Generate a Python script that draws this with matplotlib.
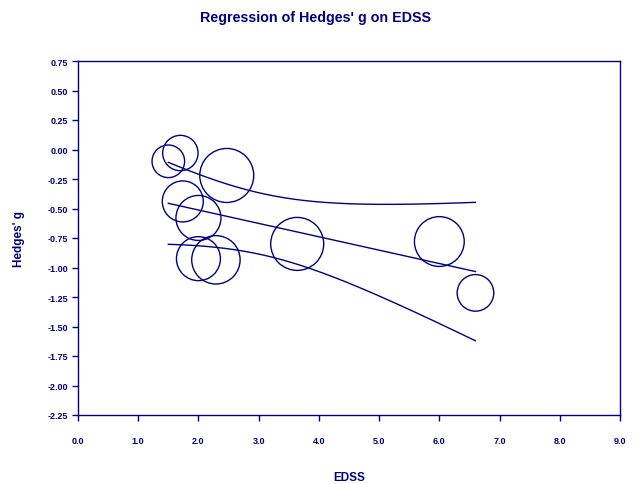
import numpy as np
import matplotlib
matplotlib.use("Agg")
import matplotlib.pyplot as plt

# Study data (EDSS, Hedges' g, relative circle radius ~ weight)
edss = [1.5, 1.7, 2.47, 1.74, 2.0, 2.0, 2.29, 3.64, 6.0, 6.6]
hedges_g = [-0.10, -0.03, -0.22, -0.44, -0.58, -0.925, -0.935, -0.80, -0.78, -1.215]
radius_px = [16.3, 17.7, 27.0, 20.5, 22.5, 22.0, 24.2, 26.5, 24.9, 18.3]

# Meta-regression estimates
intercept = -0.286
slope = -0.1134
var_intercept = 0.0710
cov_is = -0.0175
var_slope = 0.00573
z_crit = 1.96
x_range = (1.5, 6.6)

xticks = [0.0, 1.0, 2.0, 3.0, 4.0, 5.0, 6.0, 7.0, 8.0, 9.0]
yticks = [0.75, 0.50, 0.25, 0.00, -0.25, -0.50, -0.75, -1.00, -1.25, -1.50, -1.75, -2.00, -2.25]

navy = "#000080"
plt.rcParams['font.family'] = ['Liberation Sans', 'DejaVu Sans']

fig = plt.figure(figsize=(6.41, 4.85), dpi=100)
ax = fig.add_axes([78/641, 1-416/485, (620-78)/641, (416-62)/485])

xs = np.linspace(x_range[0], x_range[1], 200)
pred = intercept + slope * xs
half = z_crit * np.sqrt(var_intercept + 2 * xs * cov_is + xs**2 * var_slope)
ax.plot(xs, pred, color=navy, lw=1.0)
ax.plot(xs, pred + half, color=navy, lw=1.0)
ax.plot(xs, pred - half, color=navy, lw=1.0)

sizes = [(2 * r * 0.72) ** 2 for r in radius_px]
ax.scatter(edss, hedges_g, s=sizes, facecolors='none', edgecolors=navy, linewidths=1.0, zorder=3)

ax.set_xlim(0, 9)
ax.set_ylim(-2.25, 0.75)
ax.set_xticks(xticks)
ax.set_xticklabels([f"{t:.1f}" for t in xticks])
ax.set_yticks(yticks)
ax.set_yticklabels([f"{t:.2f}" for t in yticks])
for s in ax.spines.values():
    s.set_color(navy)
    s.set_linewidth(1.0)
ax.tick_params(axis='both', colors=navy, labelcolor=navy, labelsize=6.5, length=4, width=1.0, direction='out')
ax.tick_params(axis='x', pad=11)
ax.tick_params(axis='y', pad=3)
for lab in ax.get_xticklabels() + ax.get_yticklabels():
    lab.set_fontweight('bold')

ax.set_xlabel("EDSS", color=navy, fontsize=8.5, fontweight='bold', labelpad=19)
ax.set_ylabel("Hedges' g", color=navy, fontsize=8.5, fontweight='bold', labelpad=16)
fig.text(316/641, 1-18/485, "Regression of Hedges' g on EDSS", color=navy, fontsize=10.3,
         fontweight='bold', ha='center', va='center')

fig.savefig("out.png", dpi=100)
